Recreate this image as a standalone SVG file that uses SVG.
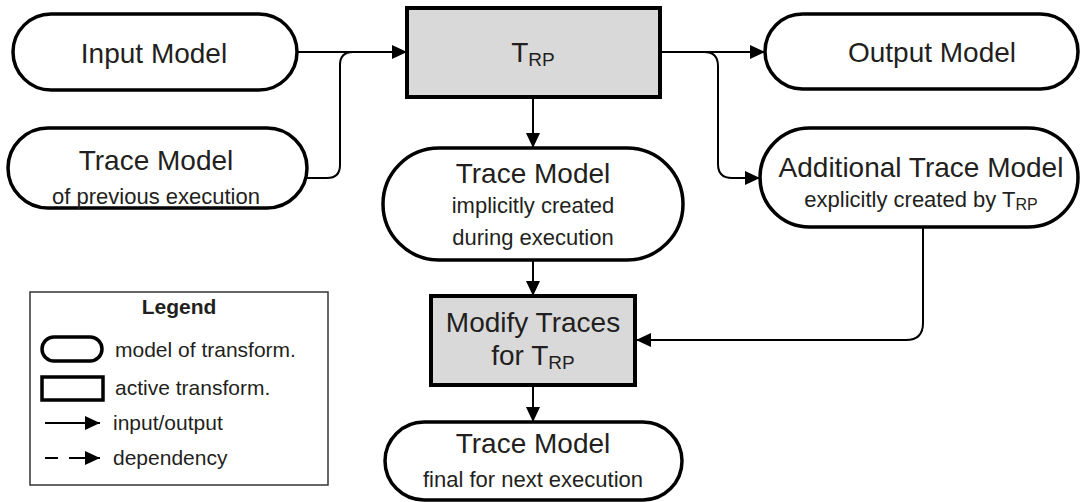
<svg xmlns="http://www.w3.org/2000/svg" width="1081" height="502" viewBox="0 0 1081 502">
  <defs>
    <marker id="arrow" markerUnits="userSpaceOnUse" markerWidth="15" markerHeight="14" refX="15" refY="7" orient="auto">
      <path d="M0,0 L15,7 L0,14 Z" fill="#000"/>
    </marker>
    <style>
      .model { fill: #fff; stroke: #000; stroke-width: 3.5; }
      .active { fill: #d9d9d9; stroke: #000; stroke-width: 4; }
      .conn { fill: none; stroke: #000; stroke-width: 2; }
      .lbl { font-family: "Liberation Sans", Arial, sans-serif; fill: #231f20; text-anchor: middle; }
      .big { font-size: 28px; }
      .small { font-size: 22px; }
      .leg { font-family: "Liberation Sans", Arial, sans-serif; fill: #231f20; font-size: 21px; }
    </style>
  </defs>

  <!-- connectors -->
  <g id="connectors">
    <path class="conn" d="M297,52 H407" marker-end="url(#arrow)"/>
    <path class="conn" d="M307,178 H327 Q340,178 340,165 V65 Q340,52 353,52 H407"/>
    <path class="conn" d="M660,52 H765" marker-end="url(#arrow)"/>
    <path class="conn" d="M660,52 H704 Q718,52 718,66 V164 Q718,178 732,178 H760" marker-end="url(#arrow)"/>
    <path class="conn" d="M533,97 V148" marker-end="url(#arrow)"/>
    <path class="conn" d="M533,260 V296" marker-end="url(#arrow)"/>
    <path class="conn" d="M533,385 V422" marker-end="url(#arrow)"/>
    <path class="conn" d="M923,227 V323 Q923,340 906,340 H636" marker-end="url(#arrow)"/>
  </g>

  <g id="input-model">
    <rect class="model" x="13" y="14" width="284" height="76" rx="38" ry="38"/>
    <text class="lbl big" x="154" y="63">Input Model</text>
  </g>

  <g id="trace-model-previous">
    <rect class="model" x="8" y="128" width="299" height="80" rx="40" ry="40"/>
    <text class="lbl big" x="156" y="170">Trace Model</text>
    <text class="lbl small" x="156" y="204">of previous execution</text>
  </g>

  <g id="t-rp">
    <rect class="active" x="407" y="8" width="253" height="89"/>
    <text class="lbl big" x="533" y="62">T<tspan font-size="19" dy="4">RP</tspan></text>
  </g>

  <g id="output-model">
    <rect class="model" x="765" y="14" width="313" height="75" rx="37.5" ry="37.5"/>
    <text class="lbl big" x="932" y="62">Output Model</text>
  </g>

  <g id="additional-trace-model">
    <rect class="model" x="760" y="128" width="318" height="99" rx="49.5" ry="49.5"/>
    <text class="lbl big" x="921" y="177">Additional Trace Model</text>
    <text class="lbl small" x="921" y="207">explicitly created by T<tspan font-size="16" dy="3">RP</tspan></text>
  </g>

  <g id="trace-model-implicit">
    <rect class="model" x="383" y="148" width="300" height="112" rx="56" ry="56"/>
    <text class="lbl big" x="533" y="183">Trace Model</text>
    <text class="lbl small" x="533" y="213">implicitly created</text>
    <text class="lbl small" x="533" y="245">during execution</text>
  </g>

  <g id="modify-traces">
    <rect class="active" x="431" y="296" width="204" height="89"/>
    <text class="lbl big" x="533" y="332">Modify Traces</text>
    <text class="lbl big" x="533" y="365">for T<tspan font-size="19" dy="4">RP</tspan></text>
  </g>

  <g id="trace-model-final">
    <rect class="model" x="385" y="422" width="297" height="78" rx="39" ry="39"/>
    <text class="lbl big" x="533" y="453">Trace Model</text>
    <text class="lbl small" x="533" y="487">final for next execution</text>
  </g>

  <g id="legend">
    <rect x="30" y="292" width="298" height="193" fill="#fff" stroke="#333" stroke-width="1.5"/>
    <text class="leg" x="179" y="314" font-weight="bold" text-anchor="middle">Legend</text>
    <rect x="42" y="337" width="60" height="24" rx="12" ry="12" fill="#fff" stroke="#000" stroke-width="3.5"/>
    <text class="leg" x="115" y="357">model of transform.</text>
    <rect x="42" y="377" width="61" height="23" fill="#fff" stroke="#000" stroke-width="3.5"/>
    <text class="leg" x="115" y="395">active transform.</text>
    <path class="conn" d="M45,423 H100" marker-end="url(#arrow)"/>
    <text class="leg" x="113" y="430">input/output</text>
    <path class="conn" d="M45,458 H58"/>
    <path class="conn" d="M69,458 H100" marker-end="url(#arrow)"/>
    <text class="leg" x="113" y="465">dependency</text>
  </g>
</svg>
